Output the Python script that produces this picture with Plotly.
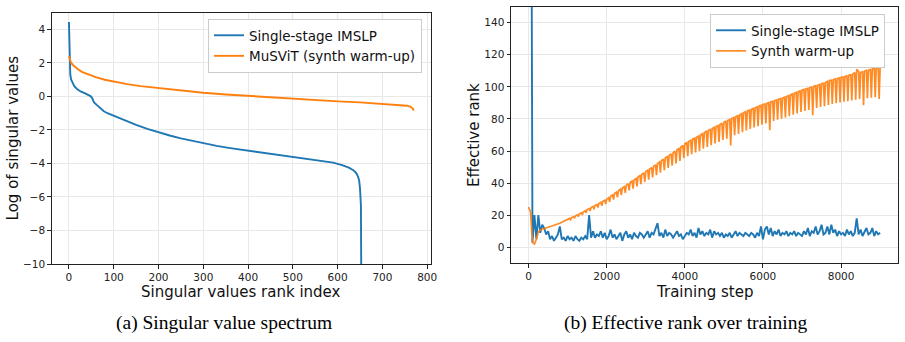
import plotly.graph_objects as go

# ---------------- Panel (a): singular value spectrum ----------------
imslp_rank = [0, 1, 2, 3, 5, 8, 12, 18, 26, 35, 42, 48, 52, 56, 62, 70, 78, 86, 100,
              115, 130, 150, 175, 200, 225, 250, 275, 300, 330, 360, 400, 440, 480,
              520, 560, 590, 610, 625, 635, 641, 645, 648, 650, 652, 653]
imslp_logsv = [4.45, 2.6, 1.7, 1.3, 1.0, 0.8, 0.62, 0.45, 0.3, 0.2, 0.12, 0.02, -0.1,
               -0.35, -0.5, -0.7, -0.88, -1.0, -1.15, -1.32, -1.5, -1.7, -1.93, -2.15,
               -2.33, -2.5, -2.65, -2.8, -2.95, -3.08, -3.23, -3.38, -3.52, -3.66,
               -3.82, -3.95, -4.1, -4.25, -4.4, -4.55, -4.75, -5.0, -5.5, -6.5, -12.0]

musvit_rank = [0, 2, 5, 10, 20, 30, 45, 60, 80, 100, 130, 160, 200, 250, 300, 350,
               400, 450, 500, 550, 600, 650, 700, 740, 755, 762, 766, 768, 770]
musvit_logsv = [2.4, 2.2, 2.0, 1.85, 1.62, 1.45, 1.28, 1.15, 1.0, 0.88, 0.74, 0.62,
                0.5, 0.35, 0.22, 0.12, 0.03, -0.06, -0.15, -0.23, -0.29, -0.35, -0.43,
                -0.5, -0.55, -0.6, -0.65, -0.72, -0.85]

# ---------------- Panel (b): effective rank over training ----------------
STEP = 50  # logging interval of the training steps
imslp_erank = [
    400, 400, 3, 20, 5, 20, 9, 14, 12, 8, 10, 5, 7, 4, 6, 8, 13, 5, 6, 4,
    7, 5, 6, 4, 7, 5, 4, 6, 5, 7, 5, 20, 6, 10, 6, 8, 7, 10, 6, 9,
    5, 7, 11, 6, 8, 5, 7, 9, 4, 8, 10, 6, 8, 5, 9, 7, 6, 9, 8, 6,
    8, 10, 6, 9, 8, 11, 15, 7, 9, 6, 11, 7, 9, 8, 6, 8, 10, 7, 8, 5,
    7, 9, 8, 11, 7, 9, 6, 12, 8, 10, 7, 9, 8, 11, 6, 10, 8, 9, 7, 9,
    6, 8, 7, 9, 6, 8, 10, 7, 9, 8, 7, 9, 8, 7, 9, 8, 6, 9, 7, 13,
    5, 11, 13, 8, 12, 7, 10, 8, 11, 7, 9, 8, 10, 7, 9, 8, 10, 7, 9, 8,
    7, 10, 8, 12, 7, 10, 9, 13, 8, 10, 14, 8, 9, 13, 8, 14, 9, 11, 7, 10,
    8, 9, 7, 11, 8, 10, 7, 9, 18, 8, 11, 7, 10, 12, 8, 9, 12, 7, 10, 8,
    9,
]

# synth warm-up: regular logged values (every STEP steps) ...
warmup_erank = [
    25, 22, 3, 2, 5, 9.5, 10.8, 11.2, 11.5, 12, 12.5, 12.8, 13.2, 13.6, 14, 14.5,
    15, 15.6, 16.2, 16.8, 17.5, 18, 18.5, 19, 19.6, 20.2, 20.8, 21.4, 22, 22.8,
    23.5, 24.1, 24.8, 25.4, 26, 26.7, 27.3, 28, 28.6, 29.3, 30, 30.9, 31.8, 32.6,
    33.5, 34.3, 35.2, 36.1, 37, 37.8, 38.6, 39.6, 40.5, 41.2, 42, 42.9, 43.8, 44.6,
    45.5, 46.4, 47.2, 48, 48.8, 49.7, 50.5, 51.4, 52.3, 53.1, 54, 54.9, 55.8, 56.5,
    57.3, 58.2, 59, 59.9, 60.8, 61.6, 62.5, 63.5, 64.5, 65.2, 66, 66.7, 67.3, 68,
    68.6, 69.3, 70, 70.8, 71.5, 72.2, 72.8, 73.4, 74, 74.7, 75.3, 75.9, 76.5, 77.3,
    78, 78.5, 79, 79.7, 80.3, 80.9, 81.4, 82, 82.5, 83.2, 83.8, 84.4, 85, 85.5,
    86, 86.5, 87, 87.5, 88, 88.5, 89, 89.4, 89.8, 90.2, 90.6, 91, 91.4, 91.9,
    92.3, 92.7, 93, 93.5, 94, 94.5, 95, 95.5, 96, 96.5, 97, 97.5, 98, 98.4,
    98.7, 99.1, 99.5, 99.9, 100.3, 100.7, 101, 101.5, 102, 102.3, 102.7, 103.4, 104, 104.2,
    104.5, 104.9, 105.2, 105.6, 106, 106.2, 106.5, 106.9, 107.3, 107.6, 108, 109, 111, 109.5,
    109, 109.4, 109.8, 110.2, 110.5, 110.8, 111.2, 111.5, 111.8, 111.9, 112,
]
# ... plus the periodic downward dips (one every DIP_PERIOD steps from DIP_START)
DIP_START, DIP_PERIOD = 1075, 100
warmup_dips = [
    17.2, 18.1, 19.2, 20.2, 21.5, 22.6, 23.7, 24.8, 25.9, 27.0,
    28.3, 29.7, 31.1, 32.5, 33.9, 35.4, 36.6, 38.0, 39.4, 40.8,
    42.1, 43.6, 45.0, 46.5, 48.0, 49.4, 50.8, 52.3, 53.8, 55.5,
    56.8, 58.0, 59.1, 60.1, 61.4, 62.5, 63.7, 64.7, 65.7, 66.9,
    67.7, 63.5, 69.8, 70.7, 71.8, 72.9, 73.7, 74.7, 75.5, 76.4,
    77.2, 73.0, 78.7, 79.5, 80.1, 80.9, 81.7, 82.7, 83.5, 84.3,
    85.0, 85.6, 82.4, 86.8, 87.5, 88.0, 88.7, 89.3, 89.8, 90.3,
    90.7, 91.1, 91.5, 92.0, 92.4, 88.6, 92.9, 93.2, 93.6, 92.4,
]

imslp_steps = [STEP * i for i in range(len(imslp_erank))]
regular_steps = [STEP * i for i in range(len(warmup_erank))]
dip_steps = [DIP_START + DIP_PERIOD * i for i in range(len(warmup_dips))]
merged = sorted(list(zip(regular_steps, warmup_erank)) + list(zip(dip_steps, warmup_dips)))
warmup_steps = [s for s, _ in merged]
warmup_vals = [v for _, v in merged]

BLUE = "#1f77b4"
ORANGE = "#ff7f0e"
FONT = "DejaVu Sans"

fig = go.Figure()
fig.add_trace(go.Scatter(x=imslp_rank, y=imslp_logsv, mode="lines",
                         line=dict(color=BLUE, width=1.9),
                         name="Single-stage IMSLP", xaxis="x", yaxis="y",
                         legend="legend"))
fig.add_trace(go.Scatter(x=musvit_rank, y=musvit_logsv, mode="lines",
                         line=dict(color=ORANGE, width=1.9),
                         name="MuSViT (synth warm-up)", xaxis="x", yaxis="y",
                         legend="legend"))
fig.add_trace(go.Scatter(x=imslp_steps, y=imslp_erank, mode="lines",
                         line=dict(color=BLUE, width=1.9),
                         name="Single-stage IMSLP", xaxis="x2", yaxis="y2",
                         legend="legend2"))
fig.add_trace(go.Scatter(x=warmup_steps, y=warmup_vals, mode="lines",
                         line=dict(color=ORANGE, width=1.7), opacity=0.9,
                         name="Synth warm-up", xaxis="x2", yaxis="y2",
                         legend="legend2"))

W, H = 905, 342
def dx(a, b):
    return [a / W, b / W]
def dy(top, bottom):
    return [1 - bottom / H, 1 - top / H]

axis_common = dict(showline=True, mirror=True, linecolor="#222", linewidth=1,
                   ticks="outside", ticklen=3.5, tickwidth=1, tickcolor="#222",
                   showgrid=True, gridcolor="#e8e8e8", gridwidth=1,
                   zeroline=False, automargin=False,
                   tickfont=dict(family=FONT, size=10.5, color="#222"))
title_font = dict(family=FONT, size=15, color="#111")

fig.update_layout(
    width=W, height=H, margin=dict(l=0, r=0, t=0, b=0),
    paper_bgcolor="white", plot_bgcolor="white",
    font=dict(family=FONT, color="#111"),
    xaxis=dict(domain=dx(51.7, 431), range=[-38.5, 808.5],
               tickvals=[0, 100, 200, 300, 400, 500, 600, 700, 800],
               anchor="y", **axis_common),
    yaxis=dict(domain=dy(12.7, 264), range=[-10, 5],
               tickvals=[-10, -8, -6, -4, -2, 0, 2, 4],
               anchor="x", **axis_common),
    xaxis2=dict(domain=dx(511, 897.7), range=[-450, 9450],
                tickvals=[0, 2000, 4000, 6000, 8000],
                anchor="y2", **axis_common),
    yaxis2=dict(domain=dy(6.7, 263.3), range=[-10, 150],
                tickvals=[0, 20, 40, 60, 80, 100, 120, 140],
                anchor="x2", **axis_common),
    legend=dict(x=208 / W, y=1 - 19 / H, xanchor="left", yanchor="top",
                bgcolor="rgba(255,255,255,0.9)", bordercolor="#cccccc",
                borderwidth=1, font=dict(family=FONT, size=13.5, color="#111"),
                tracegroupgap=0),
    legend2=dict(x=710 / W, y=1 - 14 / H, xanchor="left", yanchor="top",
                 bgcolor="rgba(255,255,255,0.9)", bordercolor="#cccccc",
                 borderwidth=1, font=dict(family=FONT, size=13.5, color="#111"),
                 tracegroupgap=0),
    showlegend=True,
)

def label(text, x, y, angle=0, font=title_font):
    fig.add_annotation(text=text, xref="paper", yref="paper",
                       x=x / W, y=1 - y / H, xanchor="center", yanchor="middle",
                       textangle=angle, showarrow=False, font=font)

# axis titles
label("Singular values rank index", 241.4, 291.5)
label("Log of singular values", 13, 138.4, angle=-90)
label("Training step", 704.4, 291.5)
label("Effective rank", 474, 135, angle=-90)

# sub-figure captions
cap_font = dict(family="Liberation Serif", size=19.5, color="#000")
label("(a) Singular value spectrum", 224, 322.5, font=cap_font)
label("(b) Effective rank over training", 686, 322.5, font=cap_font)

fig.write_html("out.html")
